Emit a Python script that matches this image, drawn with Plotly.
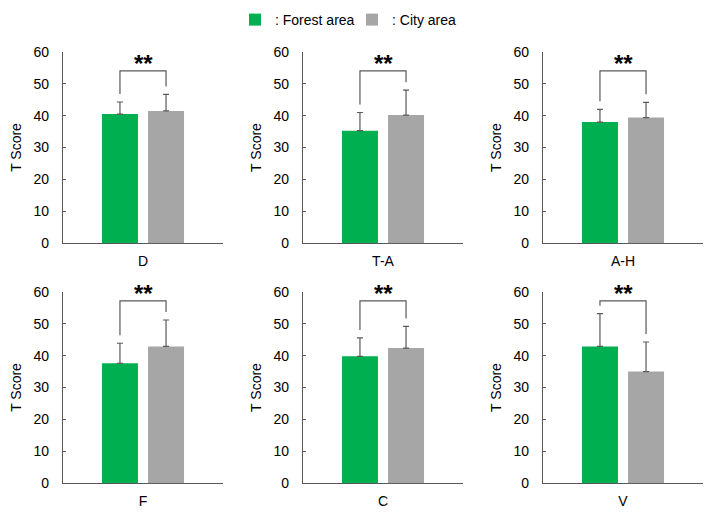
import plotly.graph_objects as go

# ---- data ----
categories = ["D", "T-A", "A-H", "F", "C", "V"]
forest_mean = [40.5, 35.3, 38.0, 37.6, 39.8, 42.9]
forest_sd = [3.8, 5.7, 4.0, 6.3, 5.8, 10.3]
city_mean = [41.5, 40.2, 39.4, 42.9, 42.4, 35.0]
city_sd = [5.2, 7.8, 4.8, 8.3, 6.8, 9.3]
significance = ["**", "**", "**", "**", "**", "**"]
bracket_top = [54.1, 54.1, 54.1, 57.2, 57.2, 57.2]
y_ticks = [0, 10, 20, 30, 40, 50, 60]

GREEN = "#00B050"
GRAY = "#A6A6A6"
AXIS = "#595959"
FONT = "Liberation Sans, Arial, sans-serif"

W, H = 720, 518
PAGE = 8  # default body margin of the page
col_left = [63 - PAGE, 303 - PAGE, 543 - PAGE]
col_width = 160
row_top = [52 - PAGE, 292 - PAGE]
row_height = 191

off = 0.144
bw = 0.225
leg_gap = 2.5

fig = go.Figure()

for i, cat in enumerate(categories):
    r, c = divmod(i, 3)
    n = i + 1
    xa = "x" if n == 1 else f"x{n}"
    ya = "y" if n == 1 else f"y{n}"
    fig.add_trace(go.Bar(
        x=[-off], y=[forest_mean[i]], width=[bw],
        marker=dict(color=GREEN, line=dict(width=0)),
        error_y=dict(type="data", array=[forest_sd[i]], arrayminus=[0], symmetric=False,
                     color=AXIS, thickness=1.2, width=3),
        name=": Forest area", legendgroup="f", showlegend=(i == 0),
        xaxis=xa, yaxis=ya,
    ))
    fig.add_trace(go.Bar(
        x=[off], y=[city_mean[i]], width=[bw],
        marker=dict(color=GRAY, line=dict(width=0)),
        error_y=dict(type="data", array=[city_sd[i]], arrayminus=[0], symmetric=False,
                     color=AXIS, thickness=1.2, width=3),
        name=": City area", legendgroup="c", showlegend=(i == 0),
        xaxis=xa, yaxis=ya,
    ))
    top = bracket_top[i]
    fig.add_trace(go.Scatter(
        x=[-off, -off, off, off],
        y=[forest_mean[i] + forest_sd[i] + leg_gap, top, top, city_mean[i] + city_sd[i] + leg_gap],
        mode="lines", line=dict(color=AXIS, width=1.2),
        showlegend=False, hoverinfo="skip", xaxis=xa, yaxis=ya,
    ))
    fig.add_annotation(
        x=0, y=top, xref=xa, yref=ya, text=f"<b>{significance[i]}</b>",
        showarrow=False, yanchor="bottom", yshift=-8,
        font=dict(family=FONT, size=24, color="#000000"),
    )

    x0 = col_left[c] / W
    x1 = (col_left[c] + col_width) / W
    y1 = 1 - row_top[r] / H
    y0 = 1 - (row_top[r] + row_height) / H
    xkey = "xaxis" if n == 1 else f"xaxis{n}"
    ykey = "yaxis" if n == 1 else f"yaxis{n}"
    fig.update_layout({
        xkey: dict(domain=[x0, x1], range=[-0.5, 0.5], tickvals=[0], ticktext=[cat],
                   showline=True, linecolor=AXIS, linewidth=1.2, ticks="",
                   showgrid=False, zeroline=False, anchor=ya, fixedrange=True,
                   ticklabelstandoff=5,
                   tickfont=dict(family=FONT, size=14, color="#000000")),
        ykey: dict(domain=[y0, y1], range=[0, 60], tickvals=y_ticks,
                   showline=True, linecolor=AXIS, linewidth=1.2, ticks="inside",
                   ticklen=3, tickcolor=AXIS, showgrid=False, zeroline=False,
                   anchor=xa, fixedrange=True, ticklabelstandoff=10,
                   title=dict(text="T Score", standoff=8,
                              font=dict(family=FONT, size=14, color="#000000")),
                   tickfont=dict(family=FONT, size=14, color="#000000")),
    })

fig.update_layout(
    width=W, height=H,
    margin=dict(l=0, r=0, t=0, b=0, autoexpand=False),
    plot_bgcolor="white", paper_bgcolor="white",
    barmode="overlay",
    font=dict(family=FONT, size=14, color="#000000"),
    legend=dict(orientation="h", x=(352 - PAGE) / W, xanchor="center",
                y=1.0 + 4 / H, yanchor="top",
                font=dict(family=FONT, size=14, color="#000000"),
                itemwidth=30, entrywidth=72, entrywidthmode="pixels", tracegroupgap=0),
)

fig.write_html("out.html")
